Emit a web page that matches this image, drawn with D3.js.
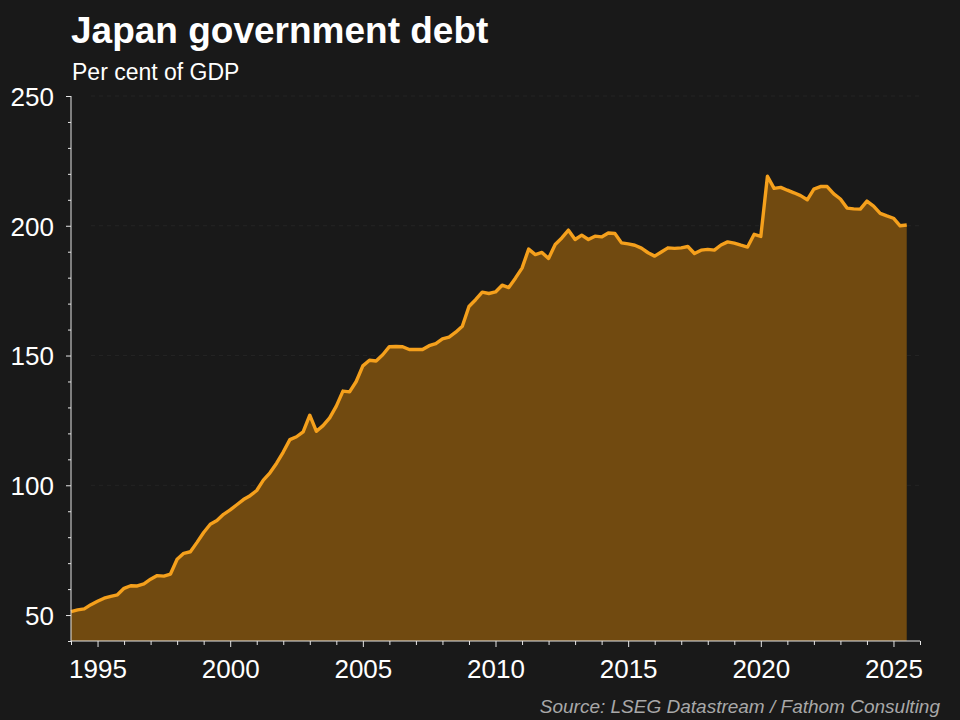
<!DOCTYPE html>
<html>
<head>
<meta charset="utf-8">
<script src="https://cdn.jsdelivr.net/npm/d3@7"></script>
<style>
  html, body { margin: 0; padding: 0; background: #191919; }
  svg { display: block; }
  text { font-family: "Liberation Sans", Arial, Helvetica, sans-serif; }
</style>
</head>
<body>
<svg id="chart" width="960" height="720"></svg>
<script>
// ---- Data (quarterly, per cent of GDP) ----
const startYear = 1994;           // first quarter shown: 1994 Q1
const debtValues = [
  51.3, 52.0, 52.4, 54.0,   // 1994
  55.3, 56.5, 57.2, 57.8,   // 1995
  60.3, 61.3, 61.2, 62.0,   // 1996
  63.8, 65.2, 65.0, 65.8,   // 1997
  71.5, 73.8, 74.4, 78.0,   // 1998
  81.8, 85.0, 86.4, 88.8,   // 1999
  90.5, 92.5, 94.5, 96.0,   // 2000
  98.0, 102.0, 104.8, 108.5,// 2001
  112.8, 117.6, 118.7, 120.6,// 2002
  127.0, 120.8, 123.0, 126.0,// 2003
  130.5, 136.3, 136.0, 140.0,// 2004
  146.0, 148.2, 147.9, 150.3,// 2005
  153.4, 153.5, 153.4, 152.3,// 2006
  152.3, 152.3, 153.8, 154.6,// 2007
  156.4, 157.1, 159.0, 161.3,// 2008
  168.9, 171.5, 174.4, 173.9,// 2009
  174.5, 177.1, 176.2, 179.8,// 2010
  183.7, 191.0, 188.9, 189.7,// 2011
  187.4, 192.8, 195.3, 198.3,// 2012
  194.7, 196.4, 194.7, 196.0,// 2013
  195.7, 197.2, 197.0, 193.4,// 2014
  193.0, 192.5, 191.4, 189.6,// 2015
  188.3, 189.9, 191.5, 191.3,// 2016
  191.5, 192.0, 189.3, 190.6,// 2017
  190.9, 190.6, 192.6, 193.8,// 2018
  193.3, 192.5, 191.8, 196.7,// 2019
  195.9, 219.1, 214.4, 214.8,// 2020
  213.7, 212.7, 211.6, 210.0,// 2021
  214.1, 215.1, 215.1, 212.3,// 2022
  210.3, 206.8, 206.5, 206.4,// 2023
  209.5, 207.6, 204.8, 203.8,// 2024
  202.9, 200.0, 200.3        // 2025
];
const yMajorTicks = [50, 100, 150, 200, 250];
const xMajorTicks = [1995, 2000, 2005, 2010, 2015, 2020, 2025];

const titleText = "Japan government debt";
const subtitleText = "Per cent of GDP";
const sourceText = "Source: LSEG Datastream / Fathom Consulting";

// ---- Build series ----
const data = debtValues.map((v, i) => ({ t: startYear + i * 0.25, v }));

const svg = d3.select("#chart");
const W = 960, H = 720;
svg.append("rect").attr("width", W).attr("height", H).attr("fill", "#191919");

const margin = { left: 71, right: 40, top: 96, bottom: 79 };
const x = d3.scaleLinear().domain([1994, 2026]).range([margin.left, W - margin.right]);
const y = d3.scaleLinear().domain([40, 250]).range([H - margin.bottom, margin.top]);

// gridlines (very faint)
svg.append("g")
  .selectAll("line")
  .data(yMajorTicks.filter(d => d > 50))
  .join("line")
  .attr("x1", x.range()[0] + 20)
  .attr("x2", x.range()[1])
  .attr("y1", d => y(d))
  .attr("y2", d => y(d))
  .attr("stroke", "#242424")
  .attr("stroke-width", 1)
  .attr("stroke-dasharray", "4,4");

// area + line
const area = d3.area()
  .x(d => x(d.t))
  .y0(y(40))
  .y1(d => y(d.v));
const line = d3.line()
  .x(d => x(d.t))
  .y(d => y(d.v));

svg.append("path")
  .datum(data)
  .attr("d", area)
  .attr("fill", "#714a10");

svg.append("path")
  .datum(data)
  .attr("d", line)
  .attr("fill", "none")
  .attr("stroke", "#f5a01c")
  .attr("stroke-width", 3.4)
  .attr("stroke-linejoin", "round");

const fontStack = "'Liberation Sans', Arial, sans-serif";

// y axis
const yMinor = d3.range(40, 251, 10).filter(d => !yMajorTicks.includes(d));
const yAxisG = svg.append("g").attr("transform", `translate(${margin.left},0)`);
yAxisG.call(d3.axisLeft(y).tickValues(yMinor).tickSize(3).tickFormat(""));
yAxisG.call(g => g.select(".domain").remove());
const yMajorG = svg.append("g").attr("transform", `translate(${margin.left},0)`)
  .call(d3.axisLeft(y).tickValues(yMajorTicks).tickSize(5).tickPadding(12));
[yAxisG, yMajorG].forEach(g => {
  g.selectAll("line").attr("stroke", "#e6e6e6");
  g.selectAll(".domain").attr("stroke", "#e6e6e6");
});
yMajorG.selectAll("text")
  .attr("fill", "#ffffff")
  .attr("dy", "0.36em")
  .style("font-size", "26px")
  .style("font-family", fontStack);
yMajorG.select(".domain").attr("d", `M0,${y(40)}V${y(250)}`);

// x axis
const xMinor = d3.range(1994, 2027, 1).filter(d => !xMajorTicks.includes(d));
const xAxisMinor = svg.append("g").attr("transform", `translate(0,${y(40)})`)
  .call(d3.axisBottom(x).tickValues(xMinor).tickSize(4).tickFormat(""));
xAxisMinor.select(".domain").remove();
const xAxisG = svg.append("g").attr("transform", `translate(0,${y(40)})`)
  .call(d3.axisBottom(x).tickValues(xMajorTicks).tickSize(6).tickPadding(13).tickFormat(d3.format("d")));
[xAxisMinor, xAxisG].forEach(g => {
  g.selectAll("line").attr("stroke", "#e6e6e6");
  g.selectAll(".domain").attr("stroke", "#e6e6e6");
});
xAxisG.select(".domain").attr("d", `M${x(1994)},0H${x(2026)}`);
xAxisG.selectAll("text")
  .attr("fill", "#ffffff")
  .style("font-size", "26px")
  .style("font-family", fontStack);

// titles
svg.append("text")
  .attr("x", 71).attr("y", 43)
  .attr("fill", "#ffffff")
  .style("font-size", "37px")
  .style("font-weight", "bold")
  .text(titleText);
svg.append("text")
  .attr("x", 72).attr("y", 80)
  .attr("fill", "#ffffff")
  .style("font-size", "23px")
  .text(subtitleText);
svg.append("text")
  .attr("x", 940).attr("y", 713)
  .attr("text-anchor", "end")
  .attr("fill", "#a8a8a8")
  .style("font-size", "19px")
  .style("font-style", "italic")
  .text(sourceText);
</script>
</body>
</html>
